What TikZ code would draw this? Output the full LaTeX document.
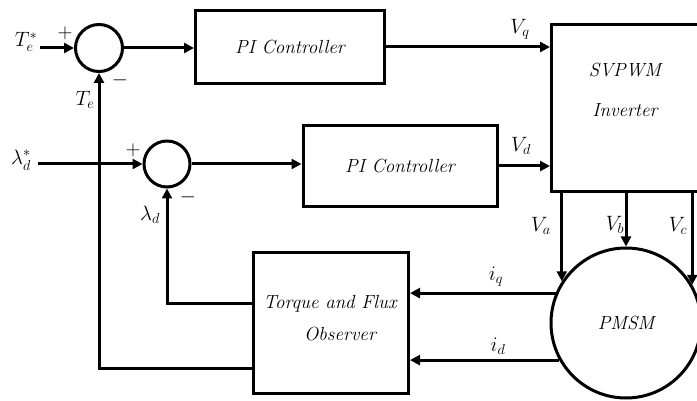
\documentclass[tikz,border=0pt]{standalone}
\usepackage{amsmath,amssymb}
\usepackage{tikz}
\usetikzlibrary{positioning,arrows.meta}

\begin{document}
\begin{tikzpicture}[
  x=1pt, y=-1pt,
  font=\fontsize{20}{24}\selectfont,
  blk/.style={draw=black, line width=3pt, align=center, font=\fontsize{19}{24}\selectfont\itshape},
  sumnode/.style={draw=black, line width=3pt, circle, minimum size=47pt, inner sep=0pt},
  lbl/.style={inner sep=1pt},
  arr/.style={-{Triangle[length=10pt,width=10pt]}, line width=3pt},
  ln/.style={line width=3pt}
]
\useasboundingbox (0,0) rectangle (697,401);

\node[sumnode] (sumT) at (99,48) {};
\node[sumnode, minimum size=46pt] (sumL) at (167,164) {};
\node[blk, minimum width=189pt, minimum height=73pt] (pi1) at (290,47) {PI Controller};
\node[blk, minimum width=194pt, minimum height=81pt] (pi2) at (400,166) {PI Controller};
\node[blk, minimum width=150pt, minimum height=167pt, anchor=north west] (inv) at (550,23) {};
\node[font=\fontsize{19}{40}\selectfont\itshape, align=center] (invtxt) at (625,90) {SVPWM\\Inverter};
\node[blk, minimum width=155pt, minimum height=141pt] (obs) at (331,323) {};
\node[font=\fontsize{19}{32}\selectfont\itshape, align=center] (obstxt) at (330,318) {Torque and Flux\\\hspace*{20pt}Observer};
\node[blk, circle, minimum size=150pt, inner sep=0pt] (pmsm) at (626,323) {PMSM};

% reference inputs
\node[lbl] (refT) at (26,42) {$T_e^*$};
\node[lbl] (refL) at (21,160) {$\lambda_d^*$};
\coordinate (inT) at (40,48);
\coordinate (inL) at (38,164);

\draw[arr] (inT) -- (sumT.west);
\draw[arr] (inL) -- (sumL.west);
\node[lbl] (pT) at (65,33) {$+$};
\node[lbl] (mT) at (120,80) {$-$};
\node[lbl] (pL) at (133,150) {$+$};
\node[lbl] (mL) at (188,197) {$-$};

% forward path
\draw[arr] (sumT.east) -- (sumT.east -| pi1.west);
\draw[arr] (sumL.east) -- (sumL.east -| pi2.west);
\draw[arr] (pi1.east) -- (pi1.east -| inv.west);
\draw[arr] (pi2.east) -- (pi2.east -| inv.west);
\node[lbl] (Vq) at (520,29) {$V_q$};
\node[lbl] (Vd) at (521,146) {$V_d$};

% phase voltages
\draw[arr] (pmsm.147 |- inv.south) -- (pmsm.147);
\draw[arr] (pmsm.north |- inv.south) -- (pmsm.north);
\draw[arr] (pmsm.30 |- inv.south) -- (pmsm.30);
\node[lbl] (Va) at (541,226) {$V_a$};
\node[lbl] (Vb) at (615,225) {$V_b$};
\node[lbl] (Vc) at (678,226) {$V_c$};

% measured currents
\draw[arr] (pmsm.157) -- (pmsm.157 -| obs.east);
\draw[arr] (pmsm.209) -- (pmsm.209 -| obs.east);
\node[lbl] (iq) at (496,277) {$i_q$};
\node[lbl] (id) at (498,346) {$i_d$};

% feedback
\draw[arr] ([yshift=20pt]obs.west) -| (sumL.south);
\draw[arr] ([yshift=-45pt]obs.west) -| (sumT.south);
\node[lbl] (Te) at (85,100) {$T_e$};
\node[lbl] (Ld) at (150,215) {$\lambda_d$};
\end{tikzpicture}
\end{document}
